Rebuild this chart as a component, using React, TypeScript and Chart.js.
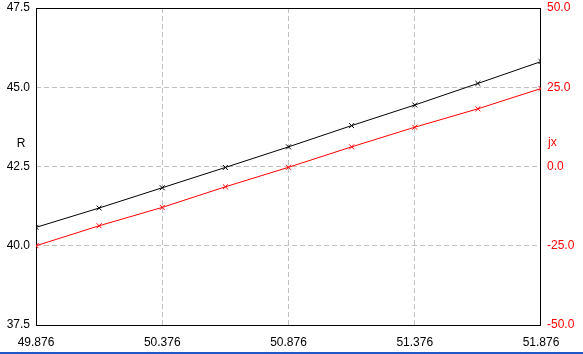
import React, { useEffect, useRef } from 'react';
import { Chart, registerables } from 'chart.js';
Chart.register(...registerables);

const xValues = [49.876, 50.126, 50.376, 50.626, 50.876, 51.126, 51.376, 51.626, 51.876];
const rValues = [40.58, 41.19, 41.83, 42.47, 43.12, 43.79, 44.44, 45.12, 45.81];
const jxValues = [-25.0, -18.7, -12.9, -6.4, -0.25, 6.2, 12.4, 18.2, 24.6];
const xTicks = [49.876, 50.376, 50.876, 51.376, 51.876];
const leftTicks = [37.5, 40.0, 42.5, 45.0, 47.5];
const rightTicks = [-50, -25, 0, 25, 50];
const leftTitle = 'R';
const rightTitle = 'jx';

const FONT = { family: '"Liberation Sans", Arial, sans-serif', size: 12 };

const framePlugin = {
  id: 'frame',
  beforeDatasetsDraw(chart: any) {
    const { ctx, chartArea: a } = chart;
    ctx.save();
    ctx.strokeStyle = '#000';
    ctx.lineWidth = 1;
    ctx.setLineDash([]);
    ctx.strokeRect(a.left + 0.5, a.top + 0.5, a.right - a.left - 1, a.bottom - a.top);
    ctx.restore();
  },
  afterDraw(chart: any) {
    const { ctx, chartArea: a } = chart;
    ctx.save();
    ctx.font = '12px "Liberation Sans", Arial, sans-serif';
    ctx.textBaseline = 'alphabetic';
    ctx.fillStyle = '#000';
    ctx.textAlign = 'center';
    ctx.fillText(leftTitle, a.left - 15, 147);
    ctx.fillStyle = '#ff0000';
    ctx.textAlign = 'left';
    ctx.fillText(rightTitle, a.right + 7, 146);
    ctx.restore();
  },
};

const gridColor = (ctx: any) => {
  const n = ctx.scale.ticks.length;
  return ctx.index === 0 || ctx.index === n - 1 ? 'rgba(0,0,0,0)' : '#c0c0c0';
};

export default function App() {
  const ref = useRef<HTMLCanvasElement>(null);
  useEffect(() => {
    if (!ref.current) return;
    const chart = new Chart(ref.current, {
      type: 'line',
      data: {
        datasets: [
          {
            label: 'R',
            data: xValues.map((x, i) => ({ x, y: rValues[i] })),
            borderColor: '#000000',
            backgroundColor: '#000000',
            borderWidth: 1,
            pointStyle: 'crossRot',
            pointRadius: 3.5,
            pointBorderWidth: 1,
            pointBorderColor: '#000000',
            yAxisID: 'y',
            tension: 0,
          },
          {
            label: 'jx',
            data: xValues.map((x, i) => ({ x, y: jxValues[i] })),
            borderColor: '#ff0000',
            backgroundColor: '#ff0000',
            borderWidth: 1,
            pointStyle: 'crossRot',
            pointRadius: 3.5,
            pointBorderWidth: 1,
            pointBorderColor: '#ff0000',
            yAxisID: 'y1',
            tension: 0,
          },
        ],
      },
      options: {
        responsive: false,
        animation: false,
        layout: { padding: { top: 8, left: 0, right: 0, bottom: 0 } },
        plugins: { legend: { display: false }, tooltip: { enabled: false } },
        scales: {
          x: {
            type: 'linear',
            min: xTicks[0],
            max: xTicks[xTicks.length - 1],
            afterBuildTicks: (s: any) => {
              s.ticks = xTicks.map((v) => ({ value: v }));
            },
            afterFit: (s: any) => {
              s.height = 27;
            },
            grid: { color: gridColor, drawTicks: false, lineWidth: 1 },
            border: { display: false, dash: [5, 3] },
            ticks: {
              autoSkip: false,
              maxRotation: 0,
              padding: 10,
              color: '#000',
              font: FONT,
              callback: (v: any) => Number(v).toFixed(3),
            },
          },
          y: {
            type: 'linear',
            position: 'left',
            min: leftTicks[0],
            max: leftTicks[leftTicks.length - 1],
            afterBuildTicks: (s: any) => {
              s.ticks = leftTicks.map((v) => ({ value: v }));
            },
            afterFit: (s: any) => {
              s.width = 36;
            },
            grid: {
              color: gridColor,
              drawTicks: true,
              tickLength: 6,
              tickColor: 'rgba(0,0,0,0)',
              lineWidth: 1,
            },
            border: { display: false, dash: [5, 3] },
            ticks: {
              padding: 0,
              color: '#000',
              font: FONT,
              callback: (v: any) => Number(v).toFixed(1),
            },
          },
          y1: {
            type: 'linear',
            position: 'right',
            min: rightTicks[0],
            max: rightTicks[rightTicks.length - 1],
            afterBuildTicks: (s: any) => {
              s.ticks = rightTicks.map((v) => ({ value: v }));
            },
            afterFit: (s: any) => {
              s.width = 42;
            },
            grid: {
              drawOnChartArea: false,
              drawTicks: true,
              tickLength: 6,
              tickColor: 'rgba(0,0,0,0)',
              color: 'rgba(0,0,0,0)',
            },
            border: { display: false },
            ticks: {
              padding: 0,
              color: '#ff0000',
              font: FONT,
              callback: (v: any) => Number(v).toFixed(1),
            },
          },
        },
      },
      plugins: [framePlugin],
    } as any);
    return () => chart.destroy();
  }, []);

  return (
    <div style={{ position: 'absolute', left: 0, top: 0, width: 583, height: 354, background: '#fff' }}>
      <canvas ref={ref} width={583} height={352} style={{ display: 'block' }} />
      <div style={{ position: 'absolute', left: 0, top: 352, width: 583, height: 2, background: '#1f56c8' }} />
    </div>
  );
}
